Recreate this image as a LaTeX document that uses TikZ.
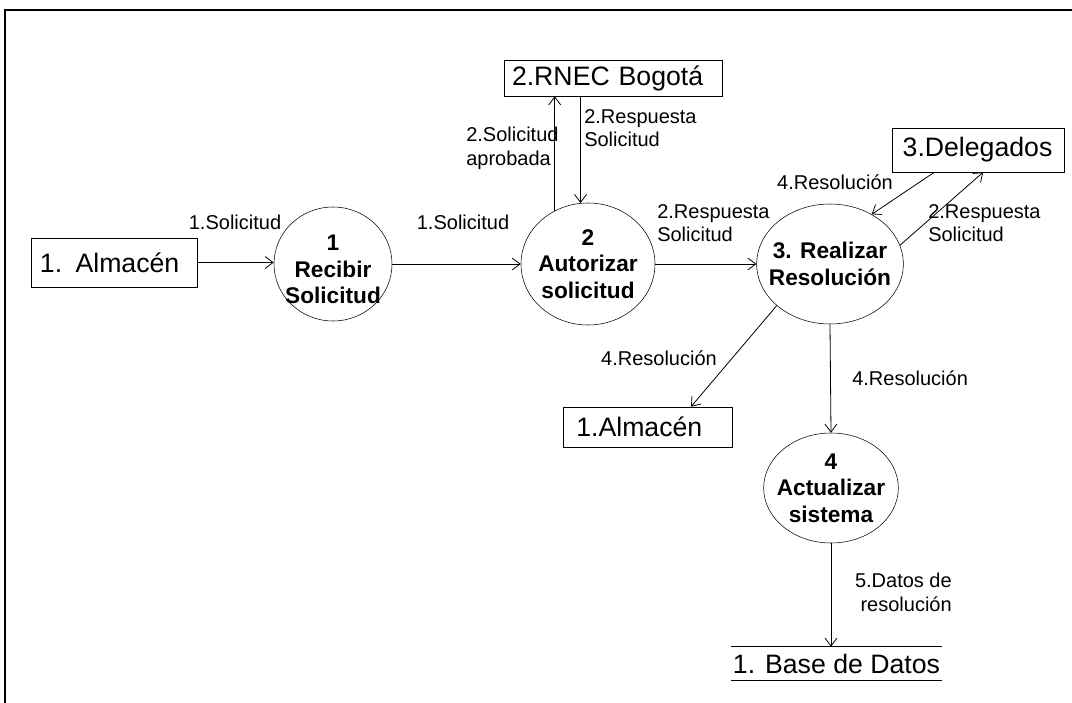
\documentclass[tikz,border=0pt]{standalone}
\usepackage{fontspec}
\setmainfont{Liberation Sans}
\usetikzlibrary{arrows.meta}
\usetikzlibrary{shapes.geometric}

\begin{document}
\begin{tikzpicture}[x=0.75pt,y=-0.75pt,
		proc/.style = {draw, ellipse, inner sep=0pt},
		proctext/.style = {align=center, inner sep=0pt, font=\fontsize{17}{20}\selectfont\bfseries},
		ext/.style = {draw, rectangle, inner ysep=0pt, align=left, font=\fontsize{20}{22}\selectfont},
		flow/.style = {-{Straight Barb[length=6pt,width=9pt]}, line width=0.6pt},
		lbl/.style = {align=left, inner sep=0pt, font=\fontsize{15}{17.5}\selectfont}]
	\useasboundingbox (0,0) rectangle (1072,703);
	% marco
	\draw [line width=1.6pt] (5,703) -- (5,10) -- (1072,10);

	% procesos
	\node[proc, minimum width=88.5pt, minimum height=85.5pt] (P1) at (333,264) {};
	\node[proc, minimum width=100.5pt, minimum height=91.5pt] (P2) at (588,264) {};
	\node[proc, minimum width=110pt, minimum height=90pt] (P3) at (830,264) {};
	\node[proc, minimum width=101pt, minimum height=82.5pt] (P4) at (831,488) {};
	\node[proctext] (P1t) at ([yshift=-4pt]P1) {1\\Recibir\\Solicitud};
	\node[proctext] (P2t) at (P2) {2\\Autorizar\\solicitud};
	\node[proctext] (P3t) at (P3) {3. Realizar\\Resolución};
	\node[proctext] (P4t) at (P4) {4\\Actualizar\\sistema};

	% entidades externas
	\node[ext, inner xsep=6.75pt, text width=111pt, minimum height=36.75pt] (Alm1) at (114,262.5) {1. Almacén};
	\node[ext, inner xsep=6pt, text width=151.5pt, minimum height=27pt] (RNEC) at (613,78) {2.RNEC Bogotá};
	\node[ext, inner xsep=8pt, text width=113pt, minimum height=33pt] (Deleg) at (978,150) {3.Delegados};
	\node[ext, inner xsep=10pt, text width=106.75pt, minimum height=30pt] (Alm2) at (647.5,427) {1.Almacén};

	% almacén de datos
	\node[font=\fontsize{20}{22}\selectfont, minimum width=158pt, minimum height=24.75pt, inner sep=0pt] (BD) at (836.5,663.5) {1. Base de Datos};
	\draw [line width=0.6pt] (BD.north west) -- (BD.north east);
	\draw [line width=0.6pt] (BD.south west) -- (BD.south east);

	% flujos
	\draw [flow] (Alm1.east) -- (Alm1.east -| P1.west);
	\draw [flow] (P1.east) -- (P2.west);
	\draw [flow] (P2.122) -- (P2.122 |- RNEC.south);
	\draw [flow] (RNEC.south -| P2.97) -- (P2.97);
	\draw [flow] (P2.east) -- (P3.west);
	\draw [flow] (Deleg.207) -- (P3.50);
	\draw [flow] (P3.15) -- (Deleg.283);
	\draw [flow] (P3.218) -- (Alm2.25);
	\draw [flow] (P3.south) -- (P4.north);
	\draw [flow] (P4.south) -- (P4.south |- BD.north);

	% etiquetas
	\node[lbl] (l1) at (235,222) {1.Solicitud};
	\node[lbl] (l2) at (463,222) {1.Solicitud};
	\node[lbl, anchor=north west] (l3) at (466,127) {2.Solicitud\\aprobada};
	\node[lbl, anchor=north west] (l4) at (584,109) {2.Respuesta\\Solicitud};
	\node[lbl, anchor=north west] (l5) at (657,204) {2.Respuesta\\Solicitud};
	\node[lbl] (l6) at (835,182) {4.Resolución};
	\node[lbl, anchor=north west] (l7) at (928,204) {2.Respuesta\\Solicitud};
	\node[lbl] (l8) at (659,358) {4.Resolución};
	\node[lbl, anchor=west] (l9) at (852,378) {4.Resolución};
	\node[lbl, anchor=north east, align=right] (l10) at (952,573) {5.Datos de\\resolución};
\end{tikzpicture}
\end{document}
